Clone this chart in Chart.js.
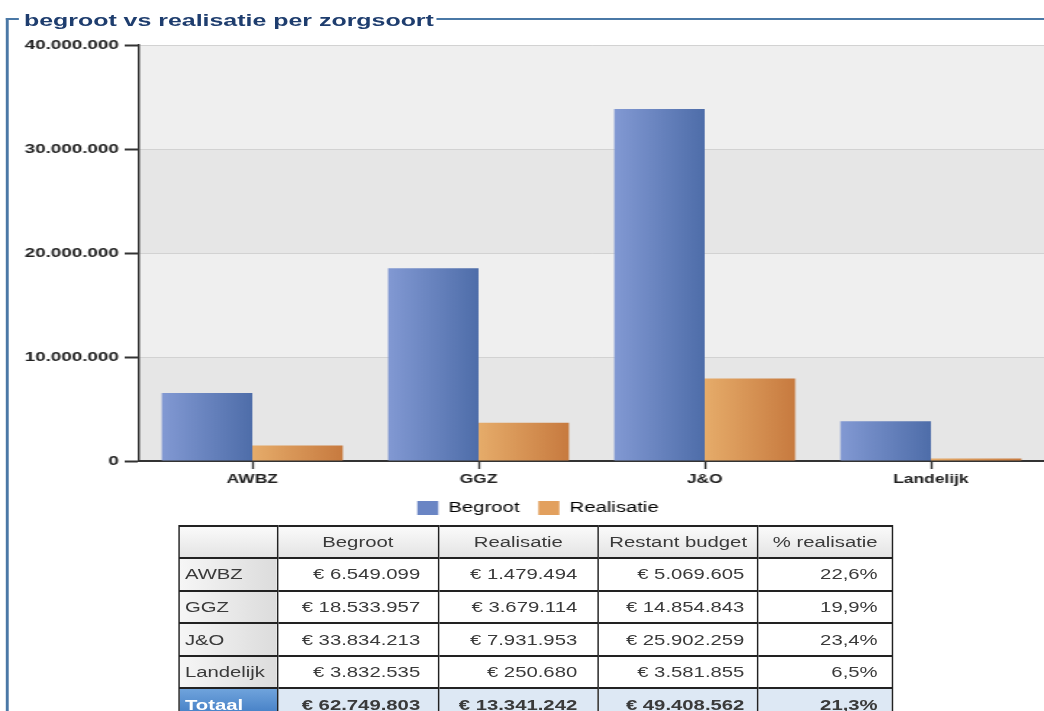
<!DOCTYPE html>
<html>
<head>
<meta charset="utf-8">
<script src="https://cdn.jsdelivr.net/npm/chart.js@4/dist/chart.umd.min.js"></script>
<style>
    html, body { margin: 0; padding: 0; background: #fff; }
    body { width: 1044px; height: 711px; position: relative; overflow: hidden; font-family: Arial, "Liberation Sans", sans-serif; }
    /* the reference is a horizontally stretched screenshot, so the whole page is drawn narrow and stretched */
    .stage { position: absolute; left: 0; top: 0; width: 720px; height: 711px; transform: scaleX(1.45); transform-origin: 0 0; }
    .frame-left { position: absolute; left: 4.4px; top: 18px; width: 1.4px; height: 700px; background: #4a78a6; }
    .frame-top1 { position: absolute; left: 4.4px; top: 18px; width: 9px; height: 2px; background: #4a78a6; }
    .frame-top2 { position: absolute; left: 301px; top: 18px; width: 420px; height: 2px; background: #4a78a6; }
    .title { position: absolute; left: 16.5px; top: 10px; font-size: 17.2px; font-weight: bold; color: #1e3d6e; white-space: nowrap; }
    .chart-box { position: absolute; left: 0; top: 0; width: 720px; height: 525px; }
    table.summary { position: absolute; left: 122.5px; top: 524.5px; border-collapse: collapse; font-size: 14px; color: #3a3a3a; table-layout: fixed; }
    table.summary td, table.summary th { border-style: solid; border-color: #222; border-width: 2px 1.4px; height: 30.6px; padding: 0 4px; white-space: nowrap; overflow: hidden; }
    table.summary th { font-weight: normal; text-align: center; background: linear-gradient(#fafafa, #e4e4e4); }
    table.summary td { text-align: right; background: #fff; }
    table.summary td.cat { text-align: left; padding-left: 4px; background: linear-gradient(to right, #f6f6f6, #dcdcdc); }
    table.summary tr.total td { font-weight: bold; background: #dde8f4; }
    table.summary tr.total td.cat { color: #fff; background: linear-gradient(#6fa3dc, #3b77c0); }
</style>
</head>
<body>
<div class="stage">
    <div class="frame-left"></div>
    <div class="frame-top1"></div>
    <div class="frame-top2"></div>
    <div class="title">begroot vs realisatie per zorgsoort</div>
    <div class="chart-box"><canvas id="chart-panel"></canvas></div>
    <table class="summary" id="summary"></table>
</div>

<script>
var categories = ['AWBZ', 'GGZ', 'J&O', 'Landelijk'];
var begroot = [6549099, 18533957, 33834213, 3832535];
var realisatie = [1479494, 3679114, 7931953, 250680];
var restant = [5069605, 14854843, 25902259, 3581855];
var percentages = ['22,6%', '19,9%', '23,4%', '6,5%'];
var totals = [62749803, 13341242, 49408562];
var totalPercentage = '21,3%';
var columnHeaders = ['', 'Begroot', 'Realisatie', 'Restant budget', '% realisatie'];
var yTicks = [0, 10000000, 20000000, 30000000, 40000000];

var barColors = [['#8299d3', '#4e6da9'], ['#e6ac6a', '#c77a3f']];
var legendColors = ['#6a85c4', '#e2a05e'];

function formatNumber(value) {
    return String(Math.round(value)).replace(/\B(?=(\d{3})+(?!\d))/g, '.');
}

function buildTable() {
    var table = document.getElementById('summary');
    var widths = [68.3, 111, 110.3, 110.3, 92.4];
    var rightPadding = [4, 12, 14, 9, 9.5];
    var cell = function (text, i, cls) {
        return '<td' + (cls ? ' class="' + cls + '"' : '') +
            ' style="padding-right:' + rightPadding[i] + 'px">' + text + '</td>';
    };
    var html = '<colgroup>';
    widths.forEach(function (w) {
        html += '<col style="width:' + w + 'px">';
    });
    html += '</colgroup><tr>';
    columnHeaders.forEach(function (header) {
        html += '<th>' + header + '</th>';
    });
    html += '</tr>';
    categories.forEach(function (category, i) {
        html += '<tr>' + cell(category.replace('&', '&amp;'), 0, 'cat') +
            cell('€ ' + formatNumber(begroot[i]), 1) +
            cell('€ ' + formatNumber(realisatie[i]), 2) +
            cell('€ ' + formatNumber(restant[i]), 3) +
            cell(percentages[i], 4) + '</tr>';
    });
    html += '<tr class="total">' + cell('Totaal', 0, 'cat');
    totals.forEach(function (total, i) {
        html += cell('€ ' + formatNumber(total), i + 1);
    });
    html += cell(totalPercentage, 4) + '</tr>';
    table.style.width = widths.reduce(function (a, b) { return a + b; }, 0) + 'px';
    table.innerHTML = html;
}

// alternating light/dark bands behind the bars
var bandsPlugin = {
    id: 'bands',
    beforeDraw: function (chart) {
        var ctx = chart.ctx;
        var area = chart.chartArea;
        var y = chart.scales.y;
        ctx.save();
        for (var i = 0; i < y.ticks.length - 1; i++) {
            var top = y.getPixelForValue(y.ticks[i + 1].value);
            var bottom = y.getPixelForValue(y.ticks[i].value);
            ctx.fillStyle = (i % 2 === 1) ? '#efefef' : '#e6e6e6';
            ctx.fillRect(area.left, top, area.right - area.left, bottom - top);
        }
        ctx.restore();
    }
};

// horizontal gradient on each bar
var gradientPlugin = {
    id: 'barGradient',
    beforeDatasetDraw: function (chart, args) {
        var ctx = chart.ctx;
        var colors = barColors[args.index];
        args.meta.data.forEach(function (bar) {
            var left = bar.x - bar.width / 2;
            var gradient = ctx.createLinearGradient(left, 0, left + bar.width, 0);
            gradient.addColorStop(0, colors[0]);
            gradient.addColorStop(1, colors[1]);
            bar.options = Object.assign({}, bar.options, {backgroundColor: gradient});
        });
    }
};

// legend sits a little right of the canvas centre in the reference
var legendShiftPlugin = {
    id: 'legendShift',
    afterLayout: function (chart) {
        chart.legend.left += 11;
        chart.legend.right += 11;
    }
};

document.addEventListener('readystatechange', function () {
    if (document.readyState !== 'complete') {
        return;
    }
    buildTable();
    new Chart(document.getElementById('chart-panel').getContext('2d'), {
        type: 'bar',
        data: {
            labels: categories,
            datasets: [
                {label: 'Begroot', data: begroot, backgroundColor: legendColors[0], borderWidth: 0},
                {label: 'Realisatie', data: realisatie, backgroundColor: legendColors[1], borderWidth: 0}
            ]
        },
        options: {
            responsive: true,
            maintainAspectRatio: false,
            animation: false,
            categoryPercentage: 0.8,
            barPercentage: 1.0,
            layout: {padding: {top: 45, left: 0, right: 0, bottom: 0}},
            plugins: {
                tooltip: {enabled: false},
                legend: {
                    position: 'bottom',
                    labels: {
                        boxWidth: 14.5,
                        boxHeight: 14,
                        padding: 13,
                        color: '#222',
                        font: {family: 'Arial', size: 14},
                        generateLabels: function (chart) {
                            return chart.data.datasets.map(function (ds, i) {
                                return {
                                    text: ds.label,
                                    fillStyle: legendColors[i],
                                    strokeStyle: 'rgba(0,0,0,0)',
                                    lineWidth: 0,
                                    datasetIndex: i
                                };
                            });
                        }
                    }
                }
            },
            scales: {
                x: {
                    offset: true,
                    grid: {offset: false, drawOnChartArea: false, drawTicks: true, tickLength: 8, tickColor: '#333', tickWidth: 1.4},
                    border: {color: '#333', width: 2},
                    ticks: {color: '#222', padding: 3, font: {family: 'Arial', size: 12, weight: 'bold'}},
                    afterFit: function (scale) { scale.height = 27; }
                },
                y: {
                    min: 0,
                    max: 40000000,
                    afterBuildTicks: function (scale) {
                        scale.ticks = yTicks.map(function (v) { return {value: v}; });
                    },
                    grid: {color: '#d2d2d2', lineWidth: 1, tickColor: '#333', tickLength: 10, tickWidth: 2},
                    border: {color: '#333', width: 1.4},
                    ticks: {
                        color: '#222',
                        padding: 4,
                        font: {family: 'Arial', size: 13, weight: 'bold'},
                        callback: function (value) { return formatNumber(value); }
                    },
                    afterFit: function (scale) { scale.width = 96; }
                }
            }
        },
        plugins: [bandsPlugin, gradientPlugin, legendShiftPlugin]
    });
});
</script>
</body>
</html>
